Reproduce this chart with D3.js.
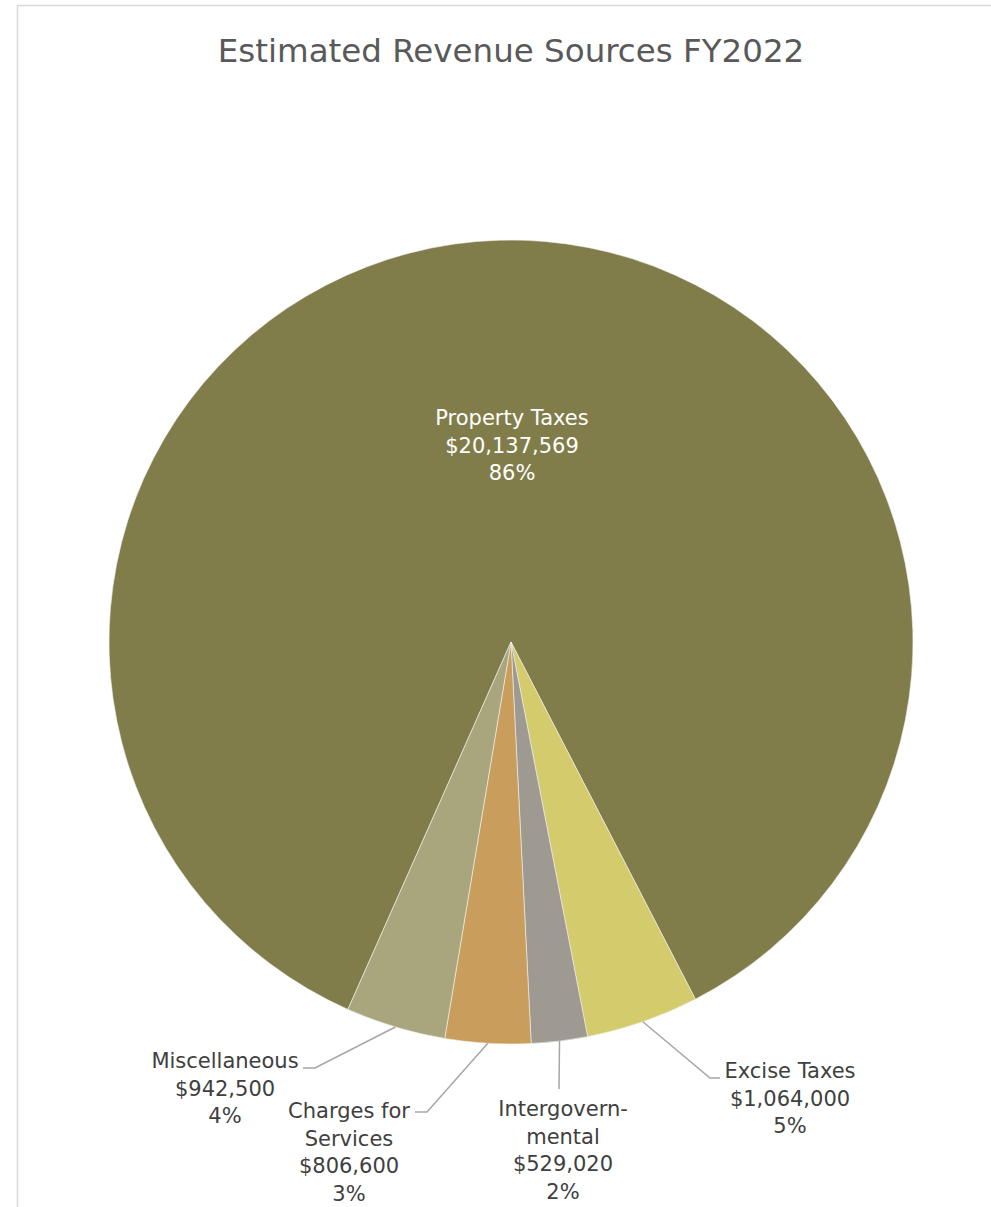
<!DOCTYPE html>
<html>
<head>
<meta charset="utf-8">
<script src="https://cdn.jsdelivr.net/npm/d3@7"></script>
<style>
  body { margin: 0; background: #fff; }
  svg { display: block; }
  text { font-family: "DejaVu Sans", sans-serif; }
</style>
</head>
<body>
<div id="chart"></div>
<script>
// chart data
const categories = ['Property Taxes', 'Excise Taxes', 'Intergovernmental', 'Charges for Services', 'Miscellaneous'];
const labelLines = [['Property Taxes'], ['Excise Taxes'], ['Intergovern-', 'mental'], ['Charges for', 'Services'], ['Miscellaneous']];
const amounts = [20137569, 1064000, 529020, 806600, 942500];
const colors = ['#817d4a', '#d3cb6c', '#9e9a91', '#c99e5c', '#a9a67e'];
const title = 'Estimated Revenue Sources FY2022';

const width = 991, height = 1207;
const cx = 511, cy = 642, radius = 402;
const startDeg = 203.94;
const lineH = 27.5;

// label placement (text centre x, first baseline y) and leader elbows, relative to pie centre
const labelPos = [
  { x: 1, y: -217, inside: true },
  { x: 279, y: 436, elbow: [199, 436], end: [209, 436] },
  { x: 52, y: 474, elbow: null, end: [48, 447] },
  { x: -162, y: 476, elbow: [-84, 470], end: [-96, 470] },
  { x: -286, y: 426, elbow: [-196, 426], end: [-208, 426] }
];

const svg = d3.select('#chart').append('svg')
  .attr('width', width)
  .attr('height', height);

// chart area frame (cropped on right/bottom)
svg.append('rect')
  .attr('x', 17.5).attr('y', 5.5)
  .attr('width', width + 20).attr('height', height + 20)
  .attr('fill', 'none')
  .attr('stroke', '#d9d9d9')
  .attr('stroke-width', 1.5);

svg.append('text')
  .attr('x', cx).attr('y', 62)
  .attr('text-anchor', 'middle')
  .attr('fill', '#595959')
  .style('font-size', '32.5px')
  .text(title);

const total = d3.sum(amounts);
const data = categories.map((c, i) => ({ name: c, lines: labelLines[i], value: amounts[i], color: colors[i], pos: labelPos[i] }));

const pie = d3.pie()
  .value(d => d.value)
  .sort(null)
  .startAngle(startDeg * Math.PI / 180)
  .endAngle(startDeg * Math.PI / 180 + 2 * Math.PI);

const arc = d3.arc().innerRadius(0).outerRadius(radius);
const edge = d3.arc().innerRadius(radius).outerRadius(radius);

const g = svg.append('g').attr('transform', `translate(${cx},${cy})`);
const arcs = pie(data);

g.selectAll('path.slice')
  .data(arcs)
  .join('path')
  .attr('class', 'slice')
  .attr('d', arc)
  .attr('fill', d => d.data.color)
  .attr('stroke', '#f2f2f2')
  .attr('stroke-width', 0.6);

const fmtMoney = d3.format('$,');
const fmtPct = d3.format('.0%');

// leader lines
g.selectAll('polyline.leader')
  .data(arcs.filter(d => !d.data.pos.inside))
  .join('polyline')
  .attr('class', 'leader')
  .attr('fill', 'none')
  .attr('stroke', '#a6a6a6')
  .attr('stroke-width', 1.5)
  .attr('points', d => {
    const p = d.data.pos;
    const pts = [edge.centroid(d)];
    if (p.elbow) pts.push(p.elbow);
    pts.push(p.end);
    return pts.map(q => q.join(',')).join(' ');
  });

// data labels
const labels = g.selectAll('text.label')
  .data(arcs)
  .join('text')
  .attr('class', 'label')
  .attr('text-anchor', 'middle')
  .attr('fill', d => d.data.pos.inside ? '#ffffff' : '#404040')
  .style('font-size', '21px');

labels.each(function(d) {
  const p = d.data.pos;
  const rows = d.data.lines.concat([fmtMoney(d.data.value), fmtPct(d.data.value / total)]);
  d3.select(this).selectAll('tspan')
    .data(rows)
    .join('tspan')
    .attr('x', p.x)
    .attr('y', (r, i) => p.y + i * lineH)
    .text(r => r);
});
</script>
</body>
</html>
